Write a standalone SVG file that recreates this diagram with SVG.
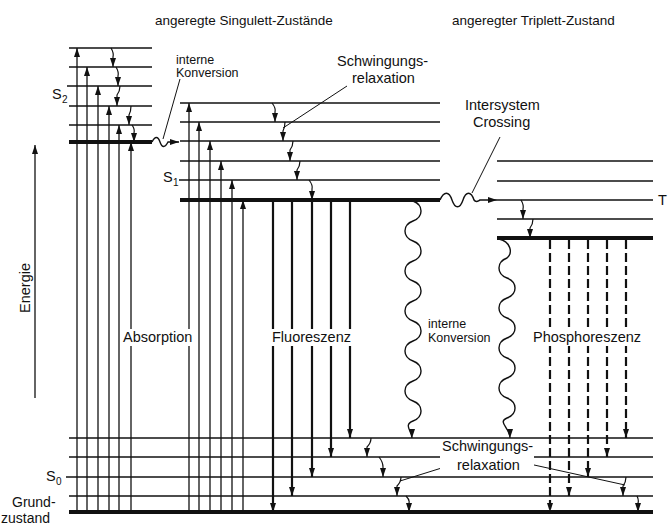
<svg xmlns="http://www.w3.org/2000/svg" width="669" height="527" viewBox="0 0 669 527">
<style>
text{font-family:"Liberation Sans",Arial,sans-serif;fill:#111}
.lb{font-size:14.5px}
.gz{font-size:14px}
.sm{font-size:12.5px}
.hd{font-size:13.5px}
.sub{font-size:10px}
.lv{stroke:#111;stroke-width:1.3}
.lt{stroke:#111;stroke-width:4}
.ab{stroke:#111;stroke-width:1.3;marker-end:url(#ah)}
.fl{stroke:#111;stroke-width:2.2;marker-end:url(#ah)}
.ph{stroke:#111;stroke-width:2.2;stroke-dasharray:9 4;marker-end:url(#ah)}
.vr{fill:none;stroke:#111;stroke-width:1.2;marker-end:url(#ah)}
.wv{fill:none;stroke:#111;stroke-width:1.4;marker-end:url(#ah)}
.pt{stroke:#111;stroke-width:1;fill:none}
.bg{fill:#fff}
</style>
<defs>
<marker id="ah" viewBox="0 0 9 6" refX="9" refY="3" markerWidth="9" markerHeight="6" markerUnits="userSpaceOnUse" orient="auto"><path d="M0,0 L9,3 L0,6 z" fill="#111"/></marker>
</defs>
<rect width="669" height="527" fill="#fff"/>

<g id="S2">
<line class="lv" x1="69" y1="48" x2="152" y2="48"/>
<line class="lv" x1="69" y1="67" x2="152" y2="67"/>
<line class="lv" x1="67" y1="86" x2="152" y2="86"/>
<line class="lv" x1="69" y1="106" x2="152" y2="106"/>
<line class="lv" x1="69" y1="125" x2="152" y2="125"/>
<line class="lt" x1="69" y1="142" x2="152" y2="142"/>
<text class="lb" x="52" y="99">S</text><text class="sub" x="62" y="103">2</text>
</g>

<g id="S1">
<line class="lv" x1="180" y1="103" x2="440" y2="103"/>
<line class="lv" x1="180" y1="122" x2="440" y2="122"/>
<line class="lv" x1="180" y1="141" x2="440" y2="141"/>
<line class="lv" x1="180" y1="161" x2="440" y2="161"/>
<line class="lv" x1="179" y1="180" x2="440" y2="180"/>
<line class="lt" x1="180" y1="200" x2="440" y2="200"/>
<text class="lb" x="163" y="182">S</text><text class="sub" x="173" y="186">1</text>
</g>

<g id="T">
<line class="lv" x1="497" y1="161" x2="653" y2="161"/>
<line class="lv" x1="497" y1="181" x2="653" y2="181"/>
<line class="lv" x1="497" y1="200" x2="653" y2="200"/>
<line class="lv" x1="497" y1="219" x2="653" y2="219"/>
<line class="lt" x1="497" y1="238" x2="653" y2="238"/>
<text class="lb" x="658" y="205">T</text>
</g>

<g id="S0">
<line class="lv" x1="69" y1="438" x2="653" y2="438"/>
<line class="lv" x1="69" y1="457" x2="653" y2="457"/>
<line class="lv" x1="66" y1="477" x2="653" y2="477"/>
<line class="lv" x1="69" y1="496" x2="653" y2="496"/>
<line class="lt" x1="69" y1="512" x2="653" y2="512"/>
<text class="lb" x="46" y="481">S</text><text class="sub" x="56" y="485">0</text>
<text class="gz" x="12" y="507">Grund-</text>
<text class="gz" x="1" y="523">zustand</text>
</g>

<g id="headers">
<text class="hd" x="155" y="24.5">angeregte Singulett-Zustände</text>
<text class="hd" x="452" y="24.5">angeregter Triplett-Zustand</text>
</g>

<g id="energy">
<line class="ab" x1="35" y1="398" x2="35" y2="145"/>
<text class="lb" transform="translate(30,288) rotate(-90)" text-anchor="middle">Energie</text>
</g>

<g id="connectors">
<line class="ab" x1="77" y1="512" x2="77" y2="48"/>
<line class="ab" x1="87" y1="512" x2="87" y2="67"/>
<line class="ab" x1="98" y1="512" x2="98" y2="86"/>
<line class="ab" x1="109" y1="512" x2="109" y2="106"/>
<line class="ab" x1="119" y1="512" x2="119" y2="125"/>
<line class="ab" x1="131" y1="512" x2="131" y2="142"/>
<line class="ab" x1="189" y1="512" x2="189" y2="103"/>
<line class="ab" x1="199" y1="512" x2="199" y2="122"/>
<line class="ab" x1="210" y1="512" x2="210" y2="141"/>
<line class="ab" x1="221" y1="512" x2="221" y2="161"/>
<line class="ab" x1="232" y1="512" x2="232" y2="180"/>
<line class="ab" x1="243" y1="512" x2="243" y2="200"/>
<line class="fl" x1="273" y1="200" x2="273" y2="512"/>
<line class="fl" x1="292" y1="200" x2="292" y2="496"/>
<line class="fl" x1="312" y1="200" x2="312" y2="477"/>
<line class="fl" x1="331" y1="200" x2="331" y2="457"/>
<line class="fl" x1="350" y1="200" x2="350" y2="438"/>
<line class="ph" x1="550" y1="240" x2="550" y2="512"/>
<line class="ph" x1="569" y1="240" x2="569" y2="496"/>
<line class="ph" x1="588" y1="240" x2="588" y2="477"/>
<line class="ph" x1="607" y1="240" x2="607" y2="457"/>
<line class="ph" x1="626" y1="240" x2="626" y2="438"/>
<path class="vr" d="M111,48 Q114,53 113,57 L113,67"/>
<path class="vr" d="M116,67 Q119,72 118,76 L118,86"/>
<path class="vr" d="M120,86 Q120,91 117,95 L117,106"/>
<path class="vr" d="M131,106 Q131,111 129,115 L129,125"/>
<path class="vr" d="M132,125 Q135,129 134,133 L134,142"/>
<path class="vr" d="M272,103 Q276,108 275,112 L275,122"/>
<path class="vr" d="M285,122 Q285,127 283,131 L283,141"/>
<path class="vr" d="M293,141 Q293,146 290,150 L290,161"/>
<path class="vr" d="M300,161 Q300,166 297,170 L297,180"/>
<path class="vr" d="M309,180 Q313,185 312,189 L312,200"/>
<path class="vr" d="M521,200 Q524,205 523,209 L523,219"/>
<path class="vr" d="M533,219 Q533,224 530,228 L530,238"/>
<path class="vr" d="M371,438 Q371,443 367,447 L367,457"/>
<path class="vr" d="M379,457 Q383,462 383,467 L383,477"/>
<path class="vr" d="M401,477 Q401,482 397,486 L397,496"/>
<path class="vr" d="M406,496 Q410,500 409,503 L409,512"/>
<path class="vr" d="M626,477 Q626,482 623,486 L623,496"/>
<path class="vr" d="M637,496 Q639,500 638,503 L638,512"/>
<path class="wv" d="M152,142 c3,-6 6,-6 8,0 c2,6 5,6 8,0 L179,142"/>
<path class="wv" d="M440,200 c4,-9 9,-9 12,0 c3,9 8,9 11,0 c3,-9 8,-9 11,0 c2,3 4,1 6,0 L497,200"/>
<path class="wv" d="M413,201 c10.7,4 10.7,16 0,20 c-10.7,4 -10.7,16 0,20 c10.7,4 10.7,16 0,20 c-10.7,4 -10.7,16 0,20 c10.7,4 10.7,16 0,20 c-10.7,4 -10.7,16 0,20 c10.7,4 10.7,16 0,20 c-10.7,4 -10.7,16 0,20 c10.7,4 10.7,16 0,20 c-10.7,4 -10.7,16 0,20 c10.7,4 10.7,16 0,20 c-10,4 -1,10 -1,17"/>
<path class="wv" d="M499,239 c12,3 14,14 8,19 c-10.7,4 -10.7,16 0,20 c10.7,4 10.7,16 0,20 c-10.7,4 -10.7,16 0,20 c10.7,4 10.7,16 0,20 c-10.7,4 -10.7,16 0,20 c10.7,4 10.7,16 0,20 c-10.7,4 -10.7,16 0,20 c10.7,4 10.7,16 0,20 c-10,4 3,10 3,20"/>
<line class="pt" x1="180" y1="79" x2="163" y2="139"/>
<line class="pt" x1="347" y1="86" x2="283" y2="128"/>
<line class="pt" x1="500" y1="137" x2="472" y2="193"/>
<line class="pt" x1="448" y1="466" x2="400" y2="481"/>
<line class="pt" x1="525" y1="463" x2="625" y2="485"/>
</g>

<g id="labels">
<text class="sm" x="176" y="64">interne</text>
<text class="sm" x="176" y="77">Konversion</text>
<text class="lb" x="337" y="66">Schwingungs-</text>
<text class="lb" x="352" y="83">relaxation</text>
<text class="lb" x="465" y="110">Intersystem</text>
<text class="lb" x="473" y="127">Crossing</text>
<rect class="bg" x="121" y="329" width="72" height="17"/>
<text class="lb" x="123" y="342">Absorption</text>
<rect class="bg" x="270" y="329" width="83" height="17"/>
<text class="lb" x="272" y="342">Fluoreszenz</text>
<text class="sm" x="428" y="328">interne</text>
<text class="sm" x="428" y="342">Konversion</text>
<rect class="bg" x="531" y="329" width="113" height="17"/>
<text class="lb" x="533" y="342">Phosphoreszenz</text>
<rect class="bg" x="440" y="441" width="94" height="31"/>
<text class="lb" x="442" y="451">Schwingungs-</text>
<text class="lb" x="457" y="470">relaxation</text>
</g>
</svg>
